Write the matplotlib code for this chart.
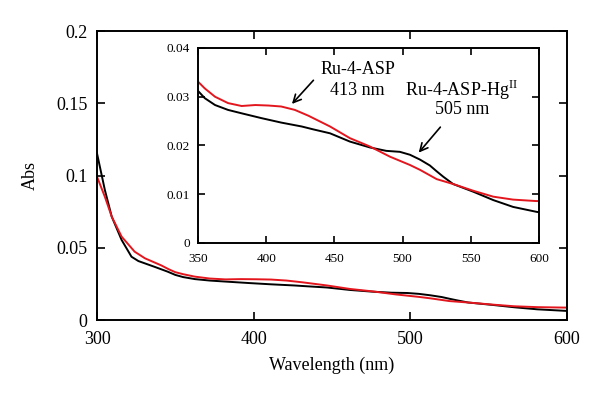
import matplotlib
matplotlib.use("Agg")
import matplotlib.pyplot as plt

plt.rcParams['font.family'] = ['Liberation Serif', 'DejaVu Serif']
plt.rcParams['mathtext.fontset'] = 'custom'
plt.rcParams['mathtext.rm'] = 'Liberation Serif'

# Ru-4-ASP-Hg(II) (black)
wl_black = [300, 305, 309.4, 315.7, 322, 326.4, 337, 345, 350, 355, 362.5, 372, 382,
            396.7, 411, 426, 434.6, 446.8, 461.4, 476, 488, 498, 505.4, 512.8, 520,
            525, 529.8, 537, 552, 566.5, 581, 598, 600]
abs_black = [0.1153, 0.090, 0.0715, 0.0554, 0.0438, 0.0408, 0.0367, 0.0335, 0.0312,
             0.0297, 0.0283, 0.0273, 0.0266, 0.0256, 0.0247, 0.0239, 0.0233, 0.0225,
             0.0208, 0.0196, 0.0189, 0.0187, 0.0181, 0.0171, 0.0159, 0.0147, 0.0136,
             0.0121, 0.0105, 0.0088, 0.0074, 0.0064, 0.0063]

# Ru-4-ASP (red)
wl_red = [300, 305, 309.4, 315.7, 324, 330.6, 341, 346, 350, 355, 362.5, 372, 382,
          392, 401.5, 411, 421, 431, 446.8, 461.4, 476, 490.8, 505.4, 512.8, 525,
          537, 552, 566.5, 581, 598, 600]
abs_red = [0.0992, 0.0853, 0.0715, 0.0577, 0.0473, 0.0427, 0.0378, 0.0350, 0.0331,
           0.0317, 0.0300, 0.0287, 0.0281, 0.0283, 0.0282, 0.0280, 0.0273, 0.0261,
           0.0239, 0.0215, 0.0198, 0.0177, 0.0160, 0.0150, 0.0131, 0.0121, 0.0107,
           0.0095, 0.0089, 0.0086, 0.0086]

main_xticks = [300, 400, 500, 600]
main_yticks = [0, 0.05, 0.1, 0.15, 0.2]
main_yticklabels = ['0', '0.05', '0.1', '0.15', '0.2']
inset_xticks = [350, 400, 450, 500, 550, 600]
inset_yticks = [0, 0.01, 0.02, 0.03, 0.04]
inset_yticklabels = ['0', '0.01', '0.02', '0.03', '0.04']

RED = '#e3161e'

fig = plt.figure(figsize=(6, 3.96), dpi=100)
ax = fig.add_axes([0.1617, 0.1919, 0.7833, 0.7298])
ax.plot(wl_black, abs_black, color='black', lw=1.4)
ax.plot(wl_red, abs_red, color=RED, lw=1.4)
ax.set_xlim(300, 600)
ax.set_ylim(0, 0.2)
ax.set_xticks(main_xticks)
ax.set_yticks(main_yticks)
ax.set_yticklabels(main_yticklabels)
ax.tick_params(direction='in', length=6, width=1.2, labelsize=13,
               top=True, right=True)
ax.tick_params(axis='y', pad=7)
ax.tick_params(axis='x', pad=8)
for s in ax.spines.values():
    s.set_linewidth(1.4)
ax.set_xlabel('Wavelength (nm)', fontsize=13, labelpad=6)
ax.set_ylabel('Abs', fontsize=13, labelpad=12)

ins = fig.add_axes([0.33, 0.3864, 0.5683, 0.4924])
ins.plot(wl_black, abs_black, color='black', lw=1.4)
ins.plot(wl_red, abs_red, color=RED, lw=1.4)
ins.set_xlim(350, 600)
ins.set_ylim(0, 0.04)
ins.set_xticks(inset_xticks)
ins.set_yticks(inset_yticks)
ins.set_yticklabels(inset_yticklabels)
ins.tick_params(direction='in', length=5, width=1.2, labelsize=9.5,
                top=True, right=True)
ins.tick_params(axis='y', pad=6)
ins.tick_params(axis='x', pad=7)
for s in ins.spines.values():
    s.set_linewidth(1.4)

ins.annotate('', xy=(417.5, 0.0281), xytext=(436, 0.0338),
             arrowprops=dict(arrowstyle='->', color='black', lw=1.2,
                             mutation_scale=14))
ins.text(467, 0.0355, 'Ru-4-ASP', fontsize=13, ha='center', va='center')
ins.text(467, 0.0312, '413 nm', fontsize=13, ha='center', va='center')

ins.annotate('', xy=(510.5, 0.0181), xytext=(529, 0.0242),
             arrowprops=dict(arrowstyle='->', color='black', lw=1.2,
                             mutation_scale=14))
ins.text(543, 0.0314, r'Ru-4-ASP-Hg$^{\mathrm{II}}$', fontsize=13,
         ha='center', va='center')
ins.text(543.5, 0.0273, '505 nm', fontsize=13, ha='center', va='center')

fig.savefig('out.png', dpi=100)
